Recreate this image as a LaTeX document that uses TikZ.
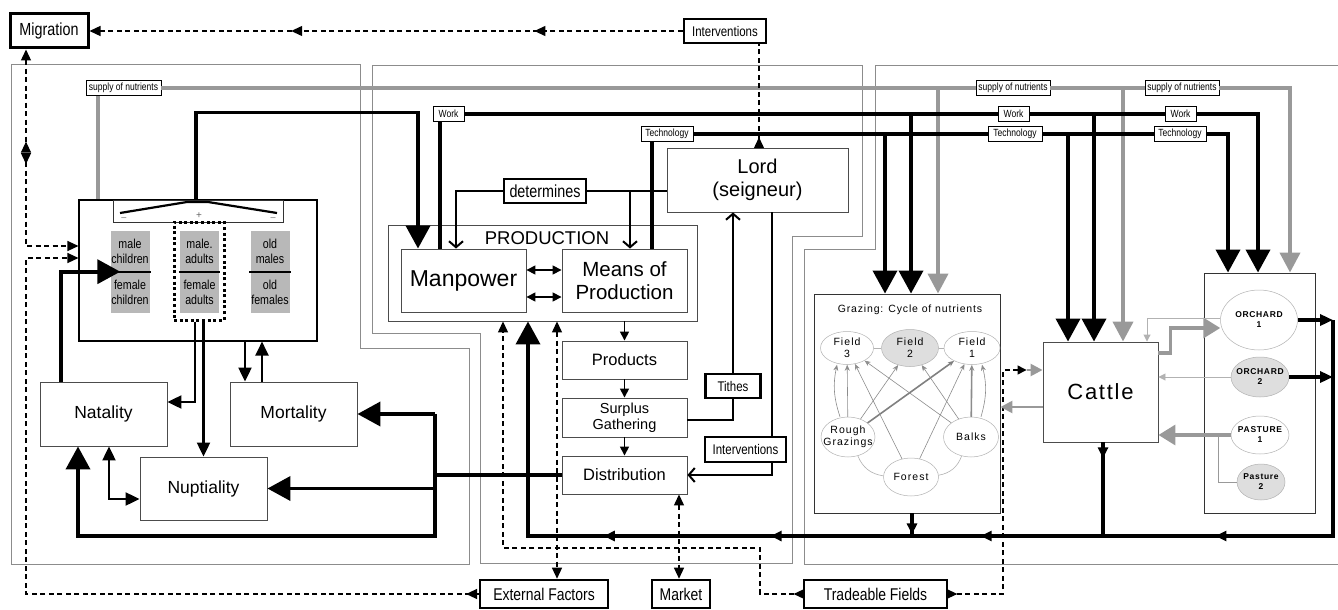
\documentclass[tikz,border=0pt]{standalone}
\usepackage{fontspec}
\setmainfont{Liberation Sans}
\newfontfamily\narrowsans[FakeStretch=0.82]{Liberation Sans}
\usetikzlibrary{arrows.meta,decorations.markings,shapes.geometric}
\definecolor{panelgray}{gray}{0.55}
\definecolor{nutgray}{gray}{0.6}
\definecolor{cellgray}{gray}{0.72}
\definecolor{fieldgray}{gray}{0.87}
\newcommand{\fsz}[2]{\fontsize{#1}{#2}\selectfont}
\newcommand{\fieldfont}{\fsz{10.5}{12}\addfontfeature{LetterSpace=10}}
\newcommand{\orchfont}{\bfseries\fsz{8.5}{10}\addfontfeature{LetterSpace=8}}
\tikzset{
  panel/.style={draw=panelgray, line width=0.8pt},
  box/.style={draw=black!70, line width=0.9pt, fill=white, inner sep=0pt, align=center},
  hardbox/.style={draw, line width=2.6pt, fill=white, inner sep=0pt, align=center},
  tag/.style={draw, line width=0.7pt, fill=white, inner sep=0pt, minimum height=15pt,
    font=\narrowsans\fsz{10.4}{12}},
  cell/.style={fill=cellgray, inner sep=0pt, minimum width=39pt, minimum height=41pt,
    align=center, font=\narrowsans\fsz{13}{15}},
  fieldpatch/.style={ellipse, draw=black!30, line width=0.5pt, inner sep=0pt,
    label={[align=center, font=\fieldfont]center:#1}},
  orchpatch/.style={ellipse, draw=black!30, line width=0.5pt, inner sep=0pt,
    label={[align=center, font=\orchfont]center:#1}},
  heavyline/.style={line width=3.8pt},
  heavy/.style={heavyline, -{Triangle[length=23pt,width=24pt]}},
  slim/.style={line width=2.2pt, -{Triangle[length=14pt,width=13pt]}},
  fine/.style={line width=1.5pt, -{Triangle[length=9pt,width=9pt]}},
  dbl/.style={line width=1.6pt, {Triangle[length=9pt,width=9pt]}-{Triangle[length=9pt,width=9pt]}},
  barb/.style={line width=2pt, -{Straight Barb[length=6pt,width=14pt,line width=2pt]}},
  dashline/.style={line width=1.3pt, dash pattern=on 5pt off 3.5pt},
  dashtip/.style={-{Triangle[length=11pt,width=10pt]}},
  nutrient/.style={draw=nutgray, line width=4pt},
  graymid/.style={draw=nutgray, line width=2.5pt, -{Triangle[length=12pt,width=12pt]}},
  graybig/.style={draw=nutgray, line width=3.5pt, -{Triangle[length=17pt,width=20pt]}},
  faint/.style={draw=black!30, line width=0.9pt, -{Triangle[length=7pt,width=7pt]}},
  cyc/.style={draw=black!45, line width=0.6pt, -{Stealth[length=6pt,width=5pt]}},
  loopline/.style={draw=black!30, line width=0.6pt},
  tipat/.style={postaction={decorate,decoration={markings,
    mark=at position #1 with {\arrow{Triangle[length=11pt,width=10pt]}}}}},
  backtipat/.style={postaction={decorate,decoration={markings,
    mark=at position #1 with {\arrowreversed{Triangle[length=11pt,width=10pt]}}}}}
}
\newcommand{\cohort}[4]{%
  \node[cell] (#2top) at (#1,251) {#3};
  \node[cell] (#2bot) at (#1,292) {#4};
  \draw[line width=2pt] ([xshift=-1pt]#2top.south west) -- ([xshift=1pt]#2top.south east);}

\begin{document}
\begin{tikzpicture}[x=1pt,y=-1pt]
  \useasboundingbox (0,0) rectangle (1338,610);
  \draw[panel] (11,64) -- (360,64) -- (360,348) -- (469,348) -- (469,564) -- (11,564) -- cycle;
  \draw[panel] (372,65) -- (862,65) -- (862,236) -- (792,236) -- (792,563) -- (480,563)
    -- (480,333) -- (372,333) -- cycle;
  \draw[panel] (1345,65) -- (875,65) -- (875,249) -- (804,249) -- (804,564) -- (1345,564);

  \node[hardbox, line width=3pt, minimum width=78pt, minimum height=34pt,
    font=\narrowsans\fsz{17.5}{20}] (migration) at (49,31) {Migration};
  \node[hardbox, minimum width=82pt, minimum height=24pt,
    font=\narrowsans\fsz{14}{16}] (intervtop) at (725,31) {Interventions};
  \node[hardbox, minimum width=128pt, minimum height=28pt,
    font=\narrowsans\fsz{17}{20}] (extfactors) at (544,594) {External Factors};
  \node[hardbox, minimum width=58pt, minimum height=28pt,
    font=\narrowsans\fsz{17}{20}] (market) at (681,594) {Market};
  \node[hardbox, minimum width=143pt, minimum height=28pt,
    font=\narrowsans\fsz{17}{20}] (tradeable) at (875.5,594) {Tradeable Fields};

  \node[box, draw=black, line width=1.1pt, minimum width=238pt, minimum height=141pt]
    (population) at (198,270.5) {};
  \node[box, draw=black!80, minimum width=170pt, minimum height=22pt] (pyramid) at (198,211) {};
  \draw[line width=2.2pt] (120,213) -- (187,202) -- (208,202) -- (277,213);
  \node[font=\fsz{9}{10}, text=black!60] (minusL) at (124,219) {–};
  \node[font=\fsz{10}{10}, text=black!60] (plus) at (199,216) {+};
  \node[font=\fsz{9}{10}, text=black!60] (minusR) at (273,219) {–};
  \cohort{130}{kids}{male\\children}{female\\children}
  \cohort{199.5}{adults}{male.\\adults}{female\\adults}
  \cohort{270}{old}{old\\males}{old\\females}
  \node[draw, line width=3pt, dash pattern=on 3pt off 2.6pt, minimum width=50pt,
    minimum height=98pt, inner sep=0pt] (adultsframe) at (199,271) {};

  \node[box, minimum width=127pt, minimum height=64pt, font=\fsz{17.5}{20}] (natality) at (103.5,414) {Natality};
  \node[box, minimum width=127pt, minimum height=64pt, font=\fsz{17.5}{20}] (mortality) at (293.5,414) {Mortality};
  \node[box, minimum width=127pt, minimum height=63pt, font=\fsz{17.5}{20}] (nuptiality) at (203.5,488.5) {Nuptiality};

  \node[box, minimum width=309pt, minimum height=96pt] (production) at (542.5,273) {};
  \node[font=\fsz{18.5}{20}] (prodlabel) at (547,238) {PRODUCTION};
  \node[box, minimum width=125pt, minimum height=63pt, font=\fsz{23}{26}] (manpower) at (463.5,280.5) {Manpower};
  \node[box, minimum width=125pt, minimum height=63pt, font=\fsz{20.5}{23}] (means) at (624.5,280.5) {Means of\\Production};
  \node[hardbox, line width=2.4pt, minimum width=82pt, minimum height=24pt,
    font=\narrowsans\fsz{17.5}{20}] (determines) at (545,191) {determines};
  \node[box, minimum width=181pt, minimum height=64pt, font=\fsz{20}{23}] (lord) at (757.5,180) {Lord\\(seigneur)};
  \node[box, minimum width=125pt, minimum height=38pt, font=\fsz{16.5}{19}] (products) at (624.5,360) {Products};
  \node[box, minimum width=125pt, minimum height=39pt, font=\fsz{14.5}{16.5}] (surplus) at (624.5,417.5) {Surplus\\Gathering};
  \node[box, minimum width=125pt, minimum height=38pt, font=\fsz{16.5}{19}] (distribution) at (624.5,475) {Distribution};
  \node[hardbox, minimum width=55pt, minimum height=24pt, font=\narrowsans\fsz{14}{16}] (tithes) at (733,386) {Tithes};
  \node[hardbox, minimum width=81pt, minimum height=25pt, font=\narrowsans\fsz{14}{16}] (intervmid) at (745.5,449.5) {Interventions};

  \node[box, draw=black!80, minimum width=186pt, minimum height=219pt] (grazing) at (907,403.5) {};
  \node[font=\fsz{10.5}{12}\addfontfeature{LetterSpace=8}] (grazingtitle) at (910,310) {Grazing: Cycle of nutrients};
  \node[fieldpatch={Field\\3}, minimum width=53pt, minimum height=33pt] (field3) at (847,348) {};
  \node[fieldpatch={Field\\2}, fill=fieldgray, minimum width=57pt, minimum height=37pt] (field2) at (910,348) {};
  \node[fieldpatch={Field\\1}, minimum width=56pt, minimum height=33pt] (field1) at (972,348) {};
  \node[fieldpatch={Rough\\Grazings}, minimum width=54pt, minimum height=40pt] (rough) at (848,437) {};
  \node[fieldpatch={Balks}, minimum width=55pt, minimum height=40pt] (balks) at (971,437) {};
  \node[fieldpatch={Forest}, minimum width=55pt, minimum height=38pt] (forest) at (911,477) {};

  \node[box, font=\fsz{22}{24}\addfontfeature{LetterSpace=8}, minimum width=115pt,
    minimum height=100pt] (cattle) at (1100.5,392) {Cattle};
  \node[box, draw=black!80, minimum width=111pt, minimum height=240pt] (orchardbox) at (1259.5,393) {};
  \node[orchpatch={ORCHARD\\1}, minimum width=77pt, minimum height=60pt] (orchard1) at (1259,320) {};
  \node[orchpatch={ORCHARD\\2}, fill=fieldgray, minimum width=58pt, minimum height=40pt] (orchard2) at (1260,377) {};
  \node[orchpatch={PASTURE\\1}, minimum width=58pt, minimum height=38pt] (pasture1) at (1260,435) {};
  \node[orchpatch={Pasture\\2}, fill=fieldgray, minimum width=48pt, minimum height=36pt] (pasture2) at (1261,482) {};

  \node[tag, minimum width=75pt] (supplyL) at (123.5,88) {supply of nutrients};
  \node[tag, minimum width=74pt] (supplyM) at (1013,88) {supply of nutrients};
  \node[tag, minimum width=74pt] (supplyR) at (1182,88) {supply of nutrients};
  \node[tag, minimum width=31pt] (workL) at (448.5,114) {Work};
  \node[tag, minimum width=31pt] (workM) at (1013.5,114) {Work};
  \node[tag, minimum width=31pt] (workR) at (1180.5,114) {Work};
  \node[tag, minimum width=52pt] (techL) at (667,134) {Technology};
  \node[tag, minimum width=54pt] (techM) at (1015,134) {Technology};
  \node[tag, minimum width=52pt] (techR) at (1180,134) {Technology};

  \draw[nutrient] (supplyL.east) -- (supplyM.west) (supplyM.east) -- (supplyR.west);
  \draw[nutrient, -{Triangle[length=20pt,width=20pt]}] (supplyR.east) -| ([xshift=30.5pt]orchardbox.north);
  \draw[nutrient] ([xshift=-25.5pt]supplyL.south) -- ([xshift=-100pt]population.north);
  \draw[nutrient, -{Triangle[length=20pt,width=20pt]}] ([xshift=31pt]grazing.north |- supplyM) -- ([xshift=31pt]grazing.north);
  \draw[nutrient, -{Triangle[length=20pt,width=20pt]}] ([xshift=22.5pt]cattle.north |- supplyM) -- ([xshift=22.5pt]cattle.north);

  \draw[heavyline] (workL.east) -- (workM.west) (workM.east) -- (workR.west);
  \draw[heavy] (workR.east) -| ([xshift=-1.5pt]orchardbox.north);
  \draw[heavyline] ([xshift=-8.5pt]workL.south) -- ([xshift=-23.5pt]manpower.north);
  \draw[heavy] ([xshift=4pt]grazing.north |- workM) -- ([xshift=4pt]grazing.north);
  \draw[heavy] ([xshift=-6.5pt]cattle.north |- workM) -- ([xshift=-6.5pt]cattle.north);

  \draw[heavyline] (techL.east) -- (techM.west) (techM.east) -- (techR.west);
  \draw[heavy] (techR.east) -| ([xshift=-31.5pt]orchardbox.north);
  \draw[heavyline] ([xshift=-15pt]techL.south) -- ([xshift=27.5pt]means.north);
  \draw[heavy] ([xshift=-22pt]grazing.north |- techM) -- ([xshift=-22pt]grazing.north);
  \draw[heavy] ([xshift=-32.5pt]cattle.north |- techM) -- ([xshift=-32.5pt]cattle.north);

  \draw[heavy] ([xshift=-2pt]population.north) -- ++(0,-87) -| ([xshift=-45.5pt]manpower.north);
  \draw[heavy] ([xshift=-42.5pt]natality.north) |- ([xshift=10pt]kidstop.south west);

  \coordinate (lbus) at (435,536);
  \draw[heavyline] (distribution.west) -- (distribution.west -| lbus);
  \draw[heavy] (mortality.east -| lbus) -- (mortality.east);
  \draw[heavy] (nuptiality.east -| lbus) -- (nuptiality.east);
  \draw[heavy] (mortality.east -| lbus) -- (lbus) -| ([xshift=-25.5pt]natality.south);

  \coordinate (rbus) at (1333,536);
  \draw[heavyline, -{Triangle[length=13pt,width=11pt]}] (orchard1.east) -- (orchard1.east -| rbus);
  \draw[heavyline, -{Triangle[length=13pt,width=11pt]}] (orchard2.east) -- (orchard2.east -| rbus);
  \draw[heavy, tipat=0.27, tipat=0.46, tipat=0.63, tipat=0.765] (orchard1.east -| rbus) -- (rbus)
    -| ([xshift=-14.5pt]production.south);
  \draw[heavyline, tipat=0.17] ([xshift=2.5pt]cattle.south) -- ([xshift=2.5pt]cattle.south |- rbus);
  \draw[heavyline, tipat=0.93] ([xshift=5pt]grazing.south) -- ([xshift=5pt]grazing.south |- rbus);

  \draw[dbl] ([yshift=10.5pt]manpower.east) -- ([yshift=10.5pt]means.west);
  \draw[dbl] ([yshift=-16.5pt]manpower.east) -- ([yshift=-16.5pt]means.west);
  \draw[line width=2pt] ([yshift=-11pt]lord.west) -- (determines.east);
  \draw[barb] ([xshift=5.5pt]means.north |- determines) -- ([xshift=5.5pt]means.north);
  \draw[barb] (determines.west) -| ([xshift=-7.5pt]manpower.north);
  \draw[line width=2pt] ([yshift=-2.5pt]surplus.east) -| (tithes.south);
  \draw[barb] (tithes.north) -- (tithes.north |- lord.south);
  \draw[line width=2pt] ([xshift=14.5pt]lord.south) -- ([xshift=26.5pt]intervmid.north);
  \draw[barb] ([xshift=26.5pt]intervmid.south) |- (distribution.east);
  \draw[fine] (production.south -| products.north) -- (products.north);
  \draw[fine] (products) -- (surplus);
  \draw[fine] (surplus) -- (distribution);

  \draw[slim] ([xshift=-4pt]adultsframe.south) |- ([yshift=12pt]natality.east);
  \draw[slim] (adultsframe.south -| nuptiality.north) -- (nuptiality.north);
  \draw[slim] ([xshift=-48.5pt]mortality.north |- population.south) -- ([xshift=-48.5pt]mortality.north);
  \draw[slim] ([xshift=-31.5pt]mortality.north) -- ([xshift=-31.5pt]mortality.north |- population.south);
  \draw[slim, {Triangle[length=14pt,width=13pt]}-{Triangle[length=14pt,width=13pt]}]
    ([xshift=5.5pt]natality.south) |- ([yshift=-10.5pt]nuptiality.west);

  \draw[dashline, dashtip, tipat=0.25, tipat=0.66] (intervtop.west) -- (migration.east);
  \draw[dashline, tipat=0.1] ([xshift=1.5pt]lord.north) -- ([xshift=1.5pt]lord.north |- intervtop.south);
  \draw[dashline, {Triangle[length=11pt,width=10pt]}-{Triangle[length=11pt,width=10pt]},
    backtipat=0.37, tipat=0.46] ([xshift=-23pt]migration.south) |- ([yshift=24.5pt]population.west);
  \coordinate (popin) at (26,258);
  \draw[dashline, dashtip, tipat=0.015] (extfactors.west) -| (popin) -- ([yshift=12.5pt]population.west);
  \draw[dashline, {Triangle[length=11pt,width=10pt]}-{Triangle[length=11pt,width=10pt]}]
    ([xshift=14.5pt]production.south) -- ([xshift=13pt]extfactors.north);
  \coordinate (tradebend) at (760,548);
  \draw[dashline, dashtip, tipat=0.016] (tradeable.west) -| (tradebend) -| ([xshift=-39.5pt]production.south);
  \draw[dashline, {Triangle[length=11pt,width=10pt]}-{Triangle[length=11pt,width=10pt]}]
    ([xshift=54.5pt]distribution.south) -- ([xshift=54.5pt]distribution.south |- market.north);
  \coordinate (tradein) at (1003,370);
  \draw[dashline, -{Triangle[length=9pt,width=9pt]}, tipat=0.03] (tradeable.east) -| (tradein)
    -- ([xshift=-16pt,yshift=22pt]cattle.west);
  \draw[graymid] ([xshift=-16pt,yshift=22pt]cattle.west) -- ([yshift=22pt]cattle.west);

  \draw[graymid] ([yshift=-15pt]cattle.west) -- ([yshift=-15pt]cattle.west -| grazing.east);
  \draw[graybig] (pasture1.west) -- (pasture1.west -| cattle.east);
  \draw[draw=nutgray, line width=0.8pt] (pasture2.west) -| ([xshift=-12pt]pasture1.west);
  \draw[faint] (orchard2.west) -- (orchard2.west -| cattle.east);
  \draw[graybig] ([yshift=39pt]cattle.east) -- ++(12,0) |- ([yshift=-8pt]orchard1.west);
  \draw[faint] ([yshift=2pt]orchard1.west) -| ([xshift=46.5pt]cattle.north);

  \draw[loopline] (field3) -- (field2);
  \draw[loopline] (field2) -- (field1);
  \draw[loopline] (rough) to[bend right=30] (forest);
  \draw[loopline] (forest) to[bend right=30] (balks);
  \draw[cyc] (rough) -- (field3);
  \draw[cyc] ([xshift=-8pt]rough.north) to[bend left=15] ([xshift=-10pt]field3.south);
  \draw[cyc] (rough) -- (field2);
  \draw[cyc, draw=black!50, line width=1.6pt] (rough) -- (field1);
  \draw[cyc] (forest) -- (field3);
  \draw[cyc] (forest) -- (field1);
  \draw[cyc] (balks) -- (field3);
  \draw[cyc] (balks) -- (field2);
  \draw[cyc, line width=1.6pt] (balks) -- (field1);
  \draw[cyc] ([xshift=10pt]balks.north) to[bend right=15] ([xshift=10pt]field1.south);
\end{tikzpicture}
\end{document}
